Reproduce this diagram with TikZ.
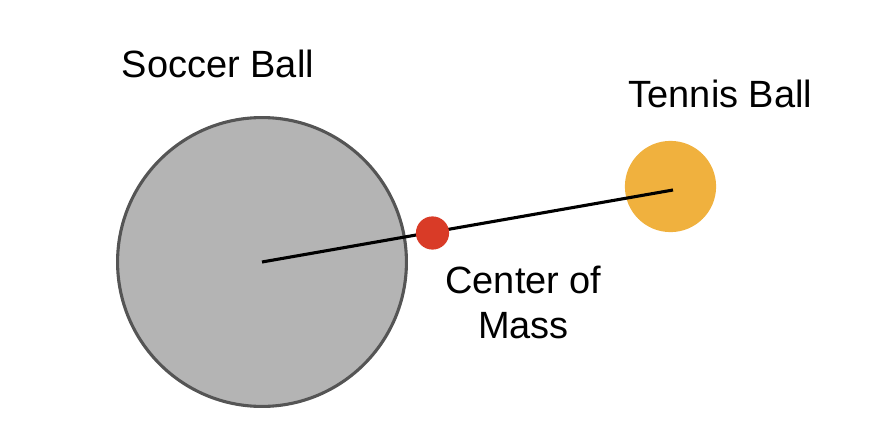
\documentclass[tikz,border=0pt]{standalone}
\usepackage{fontspec}
\setmainfont{Liberation Sans}
\usepackage{xcolor}
\usetikzlibrary{positioning}
\tikzset{
	% Define ball style
	ball/.style={
		circle,
		inner sep=0
	},
	% Define label style
	lbl/.style={
		font=\fontsize{27}{32}\selectfont,
		inner sep=0,
		align=center
	},
	rod/.style={
		line width=2.2pt,
		black
	}
}
\definecolor{soccergrey}{HTML}{B4B4B4}
\definecolor{rimgrey}{HTML}{555555}
\definecolor{tennisorange}{HTML}{F0B13E}
\definecolor{comred}{HTML}{D93B27}

\begin{document}
\begin{tikzpicture}[x=0.025cm, y=-0.025cm]
\useasboundingbox (0,0) rectangle (896,434);
\node[ball, draw=rimgrey, line width=2.2pt, fill=soccergrey, minimum size=7.22cm] at (262,262) (soccer) {};
\node[ball, fill=tennisorange, minimum size=2.28cm] at (670.5,186.5) (tennis) {};

\node[lbl, anchor=base] at (218,77) (soccerlbl) {Soccer Ball};
\node[lbl, anchor=base] at (720.5,107) (tennislbl) {Tennis Ball};
\node[lbl, anchor=north] at (523.5,266) (comlbl) {Center of\\Mass};

% rod between the balls

\draw[rod] (soccer.center) -- ([shift={(2.5,3.5)}]tennis.center);

% center of mass

\node[ball, fill=comred, minimum size=0.83cm] at (432.5,233) (com) {};

\end{tikzpicture}
\end{document}
